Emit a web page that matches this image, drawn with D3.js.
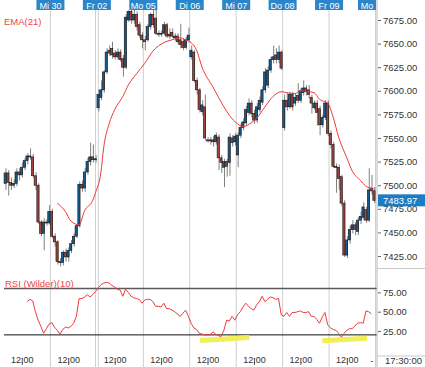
<!DOCTYPE html>
<html><head><meta charset="utf-8">
<script src="https://cdn.jsdelivr.net/npm/d3@7"></script>
<style>
html,body{margin:0;padding:0;background:#fff;}
svg{display:block;font-family:"Liberation Sans",Arial,sans-serif;}
</style></head><body>
<svg id="c" width="425" height="367"></svg>
<script>
// ---------------- DATA ----------------
const dayLabels = ["Mi 30","Fr 02","Mo 05","Di 06","Mi 07","Do 08","Fr 09","Mo"];
const candlesPerDay = 17;
const numDays = 8;
const open  = [7502,7513,7503,7500,7502,7514,7511,7519,7526,7531,7530,7510,7500,7461,7449,7461,7460,
               7472,7446,7440,7419,7418,7429,7424,7431,7438,7446,7457,7501,7497,7514,7525,7530,7527,
               7582,7593,7601,7620,7643,7645,7640,7636,7641,7634,7625,7675,7684,7675,7681,7670,7659,
               7654,7654,7668,7681,7677,7661,7660,7661,7670,7660,7662,7658,7658,7654,7652,7646,7654,
               7636,7641,7611,7601,7578,7583,7548,7548,7548,7546,7551,7529,7519,7525,7524,7550,7546,
               7532,7553,7561,7566,7577,7587,7576,7569,7580,7588,7601,7606,7622,7633,7638,7633,7641,
               7561,7590,7583,7596,7587,7595,7590,7598,7603,7601,7593,7582,7587,7581,7564,7572,7587,
               7555,7543,7520,7519,7509,7481,7426,7442,7453,7458,7451,7463,7466,7474,7463,7497,7494];
const high  = [7518,7516,7508,7506,7518,7518,7524,7529,7534,7539,7533,7514,7502,7463,7465,7464,7479,
               7475,7449,7442,7423,7431,7433,7434,7442,7449,7459,7504,7505,7518,7529,7545,7543,7532,
               7601,7611,7622,7645,7648,7652,7643,7645,7644,7638,7681,7686,7688,7686,7684,7673,7662,
               7658,7671,7683,7689,7690,7664,7664,7673,7672,7666,7666,7661,7661,7671,7655,7657,7667,
               7648,7643,7614,7603,7590,7596,7551,7551,7552,7556,7554,7532,7528,7528,7555,7553,7555,
               7556,7565,7571,7584,7592,7590,7580,7587,7594,7605,7624,7626,7636,7648,7645,7648,7643,
               7596,7598,7599,7599,7597,7608,7603,7611,7606,7606,7596,7590,7590,7584,7575,7590,7590,
               7558,7546,7523,7522,7511,7484,7446,7457,7463,7461,7466,7472,7482,7477,7518,7511,7498];
const low   = [7495,7489,7495,7497,7499,7505,7508,7516,7522,7527,7508,7495,7459,7446,7431,7457,7458,
               7444,7435,7416,7414,7415,7419,7419,7428,7435,7444,7455,7493,7493,7511,7521,7524,7524,
               7578,7590,7598,7618,7637,7634,7633,7633,7631,7615,7623,7673,7671,7671,7664,7656,7645,
               7643,7652,7665,7667,7659,7657,7657,7659,7656,7655,7656,7653,7649,7645,7643,7644,7651,
               7633,7609,7596,7577,7574,7548,7545,7543,7541,7543,7516,7513,7498,7509,7510,7541,7542,
               7519,7550,7558,7563,7574,7572,7565,7566,7577,7585,7598,7603,7619,7629,7629,7629,7622,
               7558,7579,7581,7579,7584,7587,7587,7595,7595,7592,7576,7580,7563,7553,7561,7569,7552,
               7539,7518,7492,7495,7478,7424,7423,7438,7449,7447,7447,7459,7463,7460,7461,7490,7481];
const close = [7513,7503,7500,7502,7514,7511,7519,7526,7531,7530,7510,7500,7461,7449,7461,7460,7472,
               7446,7440,7419,7418,7429,7424,7431,7438,7446,7457,7501,7497,7514,7525,7530,7527,7528,
               7596,7601,7620,7641,7640,7638,7636,7641,7633,7625,7678,7684,7675,7681,7668,7659,7654,
               7652,7668,7681,7670,7661,7660,7661,7670,7658,7658,7658,7656,7652,7649,7646,7654,7659,
               7643,7611,7601,7580,7585,7550,7547,7547,7546,7553,7529,7524,7525,7520,7551,7545,7552,
               7553,7561,7567,7580,7587,7576,7569,7583,7590,7601,7620,7622,7633,7636,7633,7641,7624,
               7590,7583,7596,7583,7593,7590,7600,7603,7599,7596,7587,7587,7577,7564,7572,7587,7555,
               7543,7520,7519,7507,7481,7426,7442,7453,7458,7453,7463,7467,7477,7463,7495,7494,7483.97];
// EMA(21): candle index -> value
const emaIndex = [19,22,24,27,29,32,33,35,36,38,40,43,45,48,51,54,58,61,64,66,68,70,72,76,80,82,85,87,90,92,95,98,101,103,106,108,113,115,118,120,122,125,127,130,132,135];
const emaValue = [7481,7472,7462,7458,7473,7484,7492,7514,7540,7565,7580,7594,7606,7618,7629,7642,7651,7654,7656,7654,7651,7643,7625,7604,7583,7574,7565,7562,7566,7571,7583,7594,7599,7598,7597,7600,7598,7591,7587,7572,7551,7529,7515,7505,7499,7496];
// RSI (Wilder)(10), one value per candle from index 8
const rsiStart = 8;
const rsiValue = [63,66,64,50,39,31,22,28,34,36,30,26,21,27,30,29,31,35,44,67,67,69,72,69,72,76,81,85,87,88,87,84,82,79,78,70,79,75,70,68,67,66,61,65,66,66,63,57,57,56,61,54,54,52,50,47,44,48,52,44,35,29,27,22,21,20,20,20,24,21,19,18,26,39,38,44,39,46,50,56,61,57,54,52,59,63,70,63,66,69,68,66,67,46,44,49,44,49,49,50,51,49,49,50,44,44,40,35,43,49,33,29,27,26,22,17,22,26,28,28,32,35,36,35,51,50,47];
const rsiLevels = [80, 20];
const rsiTicks = [25, 50, 75];
const priceTicks = [7425,7450,7475,7500,7525,7550,7575,7600,7625,7650,7675];
const lastPrice = 7483.97;
const emaLabel = "EMA(21)";
const rsiLabel = "RSI (Wilder)(10)";
const timeTickLabel = "12:00";
const lastTimeLabel = "17:30:00";
const noonCandle = 6;
// yellow highlight segments on RSI panel: [startIndex, startRsi, endIndex, endRsi]
const highlights = [[71.2,12.7,89.3,16.6],[116,12.4,132.4,15.6]];

// ---------------- DRAW ----------------
const W = 425, H = 367;
const plotL = 0, plotR = 377;
const priceTop = 10, priceBot = 269;
const rsiTop = 270, rsiBot = 356;
const svg = d3.select("#c");
svg.append("rect").attr("width",W).attr("height",H).attr("fill","#fff");

const n = close.length;
const x = d3.scaleLinear().domain([0, numDays*candlesPerDay]).range([4, 375.5]);
const cx = i => x(i + 0.5);
const y = d3.scaleLinear().domain([7425, 7675]).range([256, 20]);
const yr = d3.scaleLinear().domain([0, 100]).range([350.35, 273.05]);

const defs = svg.append("defs");
defs.append("clipPath").attr("id","pc").append("rect")
  .attr("x",plotL).attr("y",priceTop).attr("width",plotR-plotL).attr("height",priceBot-priceTop);
defs.append("clipPath").attr("id","rc").append("rect")
  .attr("x",plotL).attr("y",rsiTop).attr("width",plotR-plotL).attr("height",rsiBot-rsiTop);

// vertical day gridlines
const grid = svg.append("g");
for (let k = 1; k <= numDays; k++) {
  const gx = x(k*candlesPerDay);
  const xs = (k === 2) ? [gx-1.4, gx+1.4] : [gx];
  xs.forEach(v => grid.append("line").attr("x1",v).attr("x2",v).attr("y1",0).attr("y2",H)
    .attr("stroke","#cfcfcf").attr("stroke-width",1));
}

// price panel candles
const pg = svg.append("g").attr("clip-path","url(#pc)");
const idx = d3.range(n);
pg.selectAll("line.wick").data(idx).join("line")
  .attr("x1",i=>cx(i)+0.6).attr("x2",i=>cx(i)+0.6)
  .attr("y1",i=>y(high[i])).attr("y2",i=>y(low[i]))
  .attr("stroke","#808080").attr("stroke-width",1);
pg.selectAll("rect.body").data(idx).join("rect")
  .attr("x",i=>cx(i)-1.3).attr("width",2.2)
  .attr("y",i=>y(Math.max(open[i],close[i])))
  .attr("height",i=>Math.max(1,Math.abs(y(open[i])-y(close[i]))))
  .attr("fill",i=>close[i]>=open[i]?"#125c92":"#a3433d")
  .attr("stroke","#111").attr("stroke-width",0.6);

// EMA line
const emaPts = emaIndex.map((d,i)=>[cx(d), y(emaValue[i])]);
pg.append("path").attr("d", d3.line().curve(d3.curveMonotoneX)(emaPts))
  .attr("fill","none").attr("stroke","#f03a3a").attr("stroke-width",1);

svg.append("text").attr("x",4).attr("y",25).text(emaLabel)
  .attr("font-size","9.5px").attr("fill","#f04444");

// RSI panel
const rg = svg.append("g").attr("clip-path","url(#rc)");
rsiLevels.forEach((lv,i)=>{
  rg.append("line").attr("x1",4).attr("x2",plotR).attr("y1",yr(lv)).attr("y2",yr(lv))
    .attr("stroke", i===0 ? "#5a5a5a" : "#111").attr("stroke-width", i===0 ? 1.4 : 1);
});
highlights.forEach(h=>{
  rg.append("line").attr("x1",cx(h[0])).attr("y1",yr(h[1])).attr("x2",cx(h[2])).attr("y2",yr(h[3]))
    .attr("stroke","#f2ee58").attr("stroke-width",5);
});
const rsiPts = rsiValue.map((v,i)=>[cx(rsiStart+i), yr(v)]);
rg.append("path").attr("d", d3.line()(rsiPts))
  .attr("fill","none").attr("stroke","#f03a3a").attr("stroke-width",1);
svg.append("text").attr("x",5).attr("y",287).text(rsiLabel)
  .attr("font-size","9.5px").attr("fill","#f04444");

// top date labels
const tg = svg.append("g");
dayLabels.forEach((lab,k)=>{
  let gx = x((k+1)*candlesPerDay);
  let bx = gx - 14, bw = 28;
  if (bx + bw > plotR - 1) { bw = plotR - 1 - bx; }
  if (bw < 20) { bx = plotR - 1 - 18; bw = 18; }
  tg.append("rect").attr("x",bx).attr("y",0).attr("width",bw).attr("height",10)
    .attr("fill","#2a86c9");
  tg.append("text").attr("x",bx + bw/2).attr("y",8.5).attr("text-anchor","middle").text(lab)
    .attr("font-size","9px").attr("fill","#fff");
});

// right axis
svg.append("rect").attr("x",plotR).attr("y",0).attr("width",W-plotR).attr("height",H).attr("fill","#fff");
svg.append("line").attr("x1",plotR).attr("x2",plotR).attr("y1",0).attr("y2",H)
  .attr("stroke","#b8b8b8");
const ya = svg.append("g").attr("transform",`translate(${plotR+1},0)`)
  .call(d3.axisRight(y).tickValues(priceTicks).tickFormat(d3.format(".2f")).tickSize(3).tickPadding(2));
ya.select(".domain").remove();
ya.selectAll("text").attr("font-size","9.5px").attr("fill","#333").attr("font-family","Liberation Sans, Arial, sans-serif");
ya.selectAll("line").attr("stroke","#666");

const ra = svg.append("g").attr("transform",`translate(${plotR+1},0)`)
  .call(d3.axisRight(yr).tickValues(rsiTicks).tickFormat(d3.format(".2f")).tickSize(3).tickPadding(2));
ra.select(".domain").remove();
ra.selectAll("text").attr("font-size","9.5px").attr("fill","#333").attr("font-family","Liberation Sans, Arial, sans-serif");
ra.selectAll("line").attr("stroke","#666");

// separators in axis area
svg.append("line").attr("x1",plotR).attr("x2",W).attr("y1",priceBot-0.5).attr("y2",priceBot-0.5).attr("stroke","#c8c8c8");
svg.append("line").attr("x1",plotR).attr("x2",W).attr("y1",rsiBot).attr("y2",rsiBot).attr("stroke","#c8c8c8");

// last price marker
const ly = y(lastPrice);
svg.append("rect").attr("x",plotR+1).attr("y",ly-6).attr("width",W-plotR-1).attr("height",12).attr("fill","#1d7dc4");
svg.append("text").attr("x",plotR+6).attr("y",ly+3.5).text(d3.format(".2f")(lastPrice))
  .attr("font-size","9.5px").attr("fill","#fff");

// bottom time axis
const noonIdx = d3.range(numDays).map(k=>k*candlesPerDay+noonCandle+0.5);
const xa = svg.append("g").attr("transform",`translate(0,${rsiBot})`)
  .call(d3.axisBottom(x).tickValues(noonIdx).tickFormat(()=>timeTickLabel).tickSize(9).tickPadding(-3));
xa.select(".domain").remove();
xa.selectAll("line").attr("stroke","#555").attr("y1",2);
xa.selectAll("text").attr("font-size","9px").attr("fill","#333").attr("dy","0.1em")
  .attr("font-family","Liberation Sans, Arial, sans-serif");
svg.append("text").attr("x",cx(n-1)-4).attr("y",364).text("-").attr("font-size","9px").attr("fill","#333");
svg.append("text").attr("x",385).attr("y",364).text(lastTimeLabel).attr("font-size","9.5px").attr("fill","#333");
</script>
</body></html>
